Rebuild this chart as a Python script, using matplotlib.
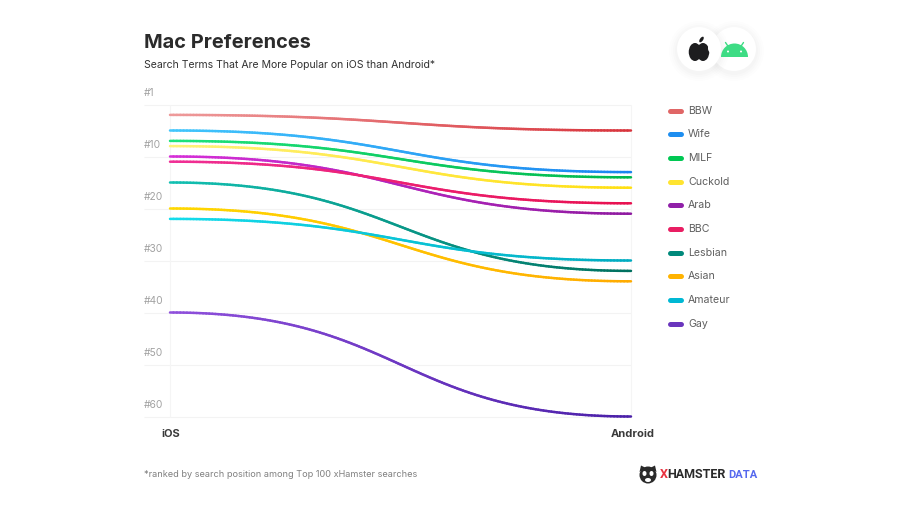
import numpy as np
import matplotlib
matplotlib.use('Agg')
import matplotlib.pyplot as plt
from matplotlib.collections import LineCollection
from matplotlib.colors import LinearSegmentedColormap
from matplotlib.patches import Circle, Ellipse, Wedge, Polygon

plt.rcParams['font.family'] = ['Inter', 'DejaVu Sans']

# ranks
terms = ['BBW', 'Wife', 'MILF', 'Cuckold', 'Arab', 'BBC', 'Lesbian', 'Asian', 'Amateur', 'Gay']
ios_rank = [2, 5, 7, 8, 10, 11, 15, 20, 22, 40]
android_rank = [5, 13, 14, 16, 21, 19, 32, 34, 30, 60]
colors_left = ['#ee9a9a', '#42c6fc', '#1ee27c', '#fff27a', '#d62ed8', '#f02f95',
               '#12c0b2', '#ffd800', '#14dcec', '#8f50dc']
colors_right = ['#d8343c', '#1a85f0', '#00b84c', '#ffdf10', '#8e1aa0', '#e8104f',
                '#00705f', '#ffab00', '#00acc1', '#4a1fa8']
legend_colors = ['#e06666', '#1e8ef0', '#00c853', '#ffe430', '#9020a8', '#e91e63',
                 '#00897b', '#ffb300', '#00b8d4', '#6a35bd']
rank_ticks = [0, 10, 20, 30, 40, 50, 60]
rank_labels = ['#1', '#10', '#20', '#30', '#40', '#50', '#60']
platforms = ['iOS', 'Android']

W, H = 900, 508
fig = plt.figure(figsize=(W / 100, H / 100), dpi=100)

# overlay in pixel coords, for text and icons
over = fig.add_axes([0, 0, 1, 1], zorder=3)
over.set_xlim(0, W)
over.set_ylim(H, 0)
over.axis('off')
over.patch.set_alpha(0)

# main plot: x 144..631 px, y 104..416 px
ax = fig.add_axes([144 / W, 1 - 416.5 / H, (631 - 144) / W, (416 - 104) / H])
ax.set_xlim(-26 / 461, 1)
ax.set_ylim(60, 0)
ax.axis('off')

ax.hlines(rank_ticks, -26 / 461, 1, color='#f3f3f3', lw=0.8, zorder=1, clip_on=False)
ax.vlines([0, 1], 0, 60, color='#f5f5f5', lw=0.8, zorder=1, clip_on=False)


def bump(y0, y1):
    # cubic bezier with both control points at mid x
    t = np.linspace(0, 1, 200)
    x = 3 * (1 - t) ** 2 * t * 0.5 + 3 * (1 - t) * t ** 2 * 0.5 + t ** 3
    y = (1 - t) ** 3 * y0 + 3 * (1 - t) ** 2 * t * y0 + 3 * (1 - t) * t ** 2 * y1 + t ** 3 * y1
    return x, y


for i, term in enumerate(terms):
    x, y = bump(ios_rank[i], android_rank[i])
    pts = np.column_stack([x, y]).reshape(-1, 1, 2)
    segs = np.concatenate([pts[:-1], pts[1:]], axis=1)
    cmap = LinearSegmentedColormap.from_list(term, [colors_left[i], colors_right[i]])
    lc = LineCollection(segs, cmap=cmap, linewidths=1.8, capstyle='round', zorder=2 + i * 0.1)
    lc.set_array(x[:-1])
    lc.set_clim(0, 1)
    lc.set_clip_on(False)
    ax.add_collection(lc)

# y labels sit above their gridlines
for r, lab in zip(rank_ticks, rank_labels):
    over.text(144, 104 + 5.2 * r - 11.5, lab, fontsize=7.4, color='#a2a2a2', ha='left', va='center')

over.text(171, 434, platforms[0], fontsize=8, fontweight='bold', color='#3a3a3a', ha='center', va='center')
over.text(633, 434, platforms[1], fontsize=8, fontweight='bold', color='#3a3a3a', ha='center', va='center')

over.text(144, 43.5, 'Mac Preferences', fontsize=14.4, fontweight='bold', color='#2b2b2b', ha='left', va='center')
over.text(144, 64.5, 'Search Terms That Are More Popular on iOS than Android*', fontsize=7.57,
          color='#333333', ha='left', va='center')
over.text(144, 474.5, '*ranked by search position among Top 100 xHamster searches', fontsize=6.57,
          color='#808080', ha='left', va='center')

# legend
for i, term in enumerate(terms):
    ly = 110.5 + i * 23.67
    over.plot([669.5, 680.5], [ly, ly], color=legend_colors[i], lw=3.6, solid_capstyle='round')
    over.text(688, ly, term, fontsize=7.6, color='#5f5f5f', ha='left', va='center')

# platform badges
for cx in (734, 699):
    for grow, a in ((8, 0.006), (6, 0.008), (4, 0.01), (2, 0.012)):
        over.add_patch(Circle((cx, 51), 22 + grow, fc='k', ec='none', alpha=a))
    over.add_patch(Circle((cx, 49), 22, fc='white', ec='none'))

# android head
green = '#3ddc84'
over.add_patch(Wedge((734.5, 57), 13.5, 180, 360, fc=green, ec='none'))
over.add_patch(Circle((728, 51.5), 1, fc='white', ec='none'))
over.add_patch(Circle((741, 51.5), 1, fc='white', ec='none'))
over.plot([725.5, 728.5], [42.5, 47], color=green, lw=1, solid_capstyle='round')
over.plot([743.5, 740.5], [42.5, 47], color=green, lw=1, solid_capstyle='round')

# apple
dark = '#1d1d1f'
over.add_patch(Ellipse((695, 52), 12.5, 18, fc=dark, ec='none'))
over.add_patch(Ellipse((703, 52), 12.5, 18, fc=dark, ec='none'))
over.add_patch(Ellipse((710, 48), 4, 8, fc='white', ec='none'))
over.add_patch(Ellipse((701.5, 39.5), 3.2, 6.5, angle=35, fc=dark, ec='none'))

# xhamster data logo
logo = '#2a2a2a'
over.add_patch(Circle((648, 475), 8.5, fc=logo, ec='none'))
over.add_patch(Polygon([[639.5, 472], [641, 465.5], [646, 468]], fc=logo, ec='none'))
over.add_patch(Polygon([[656.5, 472], [655, 465.5], [650, 468]], fc=logo, ec='none'))
over.add_patch(Ellipse((644.5, 473.5), 4, 5, fc='white', ec='none'))
over.add_patch(Ellipse((651.5, 473.5), 4, 5, fc='white', ec='none'))
over.add_patch(Ellipse((648, 480), 6, 4, fc='white', ec='none'))
logo_font = ['Roboto', 'DejaVu Sans']
over.text(660, 474.5, 'X', fontsize=9, fontweight='bold', family=logo_font, color='#e8313f', ha='left', va='center')
over.text(667.5, 474.5, 'HAMSTER', fontsize=9, fontweight='bold', family=logo_font, color=logo, ha='left', va='center')
over.text(728, 474.5, 'DATA', fontsize=8, fontweight='bold', family=logo_font, color='#5568ee', ha='left', va='center')

fig.savefig('out.png', dpi=100, facecolor='white')
